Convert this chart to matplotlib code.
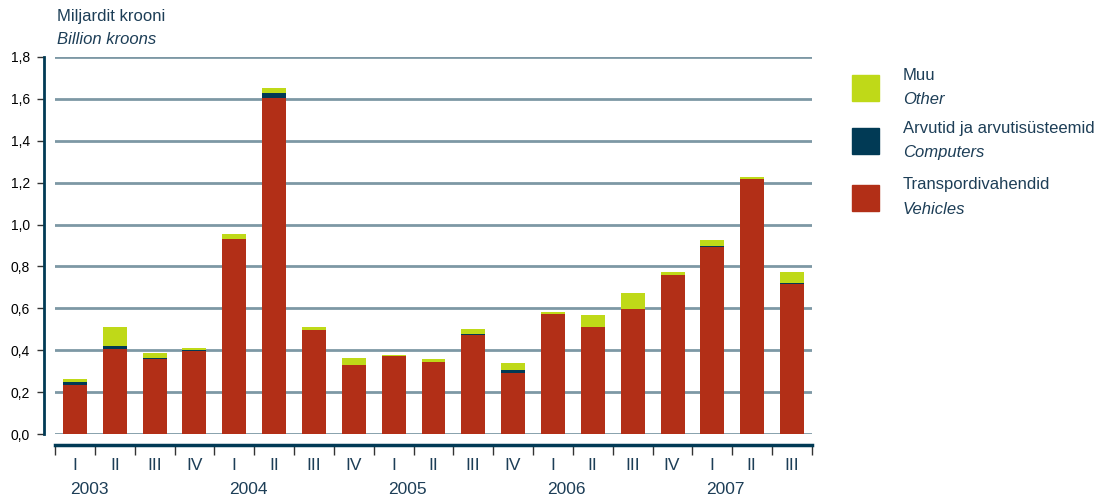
import numpy as np
import matplotlib
matplotlib.use('Agg')
from matplotlib import pyplot as plt
from matplotlib.patches import Rectangle

plt.rcParams['font.family'] = ['Liberation Sans', 'DejaVu Sans']

quarters = ['I', 'II', 'III', 'IV'] * 4 + ['I', 'II', 'III']
years = ['2003', '2004', '2005', '2006', '2007']

# billion kroons
vehicles = [0.234, 0.405, 0.358, 0.398, 0.930, 1.605, 0.497, 0.330, 0.372, 0.344,
            0.473, 0.291, 0.573, 0.511, 0.597, 0.759, 0.893, 1.218, 0.716]
computers = [0.014, 0.015, 0.006, 0.004, 0.000, 0.023, 0.000, 0.000, 0.000, 0.000,
             0.006, 0.015, 0.000, 0.000, 0.000, 0.000, 0.005, 0.000, 0.005]
other = [0.015, 0.090, 0.022, 0.009, 0.025, 0.024, 0.014, 0.033, 0.005, 0.014,
         0.022, 0.033, 0.010, 0.057, 0.076, 0.015, 0.028, 0.009, 0.053]

c_red = '#B22F17'
c_navy = '#013A55'
c_green = '#BFD918'
c_grid = '#7D98A5'
c_text = '#1D3E57'

W, H = 1109, 499
fig = plt.figure(figsize=(W / 100, H / 100), dpi=100)
ax = fig.add_axes([55 / W, (H - 434) / H, (812 - 55) / W, (434 - 57) / H])

x = np.arange(len(vehicles))
v = np.array(vehicles)
c = np.array(computers)
o = np.array(other)
ax.bar(x, v, width=0.6, color=c_red, zorder=3)
ax.bar(x, c, width=0.6, bottom=v, color=c_navy, zorder=3)
ax.bar(x, o, width=0.6, bottom=v + c, color=c_green, zorder=3)

ax.set_xlim(-0.5, len(x) - 0.5)
ax.set_ylim(0, 1.8)
ax.set_yticks(np.arange(0, 1.81, 0.2))
ax.set_yticklabels([('%.1f' % t).replace('.', ',') for t in np.arange(0, 1.81, 0.2)],
                   fontsize=13, color=c_text)
ax.yaxis.grid(True, color=c_grid, lw=2, zorder=1)
ax.set_axisbelow(True)
ax.tick_params(axis='y', length=5, width=1, color='#333333', pad=5)

ax.set_xticks(np.arange(-0.5, len(x), 1))
ax.set_xticklabels([])
ax.tick_params(axis='x', length=7, width=1, color='#333333')

for s in ['top', 'right']:
    ax.spines[s].set_visible(False)
ax.spines['left'].set_position(('outward', 8))
ax.spines['left'].set_color(c_navy)
ax.spines['left'].set_linewidth(2)
ax.spines['bottom'].set_position(('outward', 8))
ax.spines['bottom'].set_color(c_navy)
ax.spines['bottom'].set_linewidth(2.5)

for i, q in enumerate(quarters):
    fig.text((75 + i * 39.8) / W, 1 - 466 / H, q, ha='center', va='center',
             fontsize=12.5, color=c_text)
for j, yr in enumerate(years):
    fig.text((89 + j * 4 * 39.8) / W, 1 - 490 / H, yr, ha='center', va='center',
             fontsize=12.5, color=c_text)

fig.text(57 / W, 1 - 17 / H, 'Miljardit krooni', fontsize=12, color=c_text, va='center')
fig.text(57 / W, 1 - 40 / H, 'Billion kroons', fontsize=12, color=c_text, va='center',
         style='italic')

# legend
legend = [(c_green, 'Muu', 'Other', 75),
          (c_navy, 'Arvutid ja arvutisüsteemid', 'Computers', 128),
          (c_red, 'Transpordivahendid', 'Vehicles', 185)]
for col, et, en, top in legend:
    fig.patches.append(Rectangle((852 / W, 1 - (top + 26) / H), 27 / W, 26 / H,
                                 transform=fig.transFigure, color=col))
    fig.text(903 / W, 1 - (top + 0) / H, et, fontsize=12, color=c_text, va='center')
    fig.text(903 / W, 1 - (top + 24) / H, en, fontsize=12, color=c_text, va='center',
             style='italic')

plt.savefig('out.png', dpi=100)
